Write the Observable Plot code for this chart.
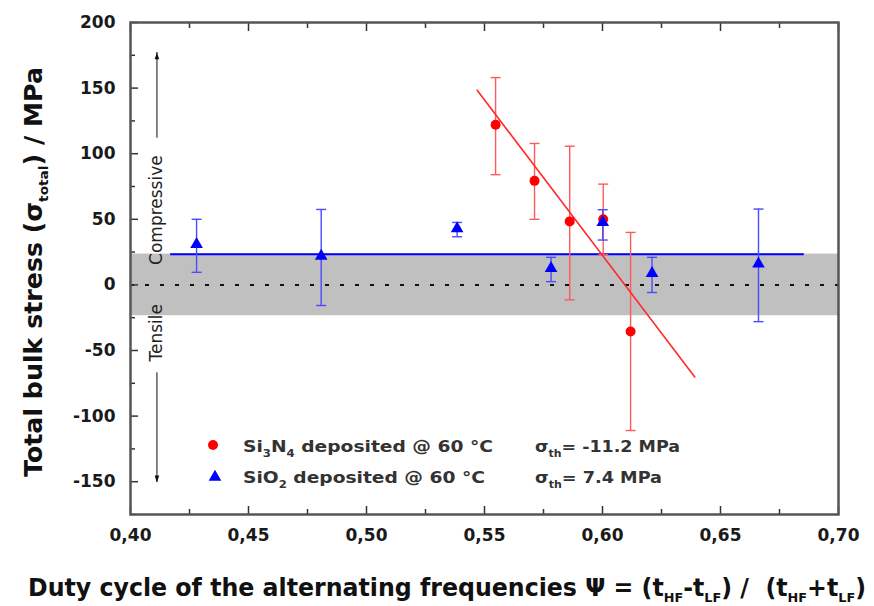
<!DOCTYPE html>
<html><head><meta charset="utf-8">
<script src="https://cdn.jsdelivr.net/npm/d3@7"></script>
<script src="https://cdn.jsdelivr.net/npm/@observablehq/plot@0.6"></script>
<style>html,body{margin:0;padding:0;background:#fff} svg{display:block}</style>
</head><body><div id="chart"></div>
<script>
// ---- data ----
const si3n4X  = [0.5547, 0.5712, 0.5861, 0.6003, 0.6119];
const si3n4Y  = [122, 79.3, 48.4, 50, -35.5];
const si3n4Lo = [84, 50, -11.4, 23, -111];
const si3n4Hi = [158, 107.8, 105.7, 76.8, 40];

const sio2X  = [0.428, 0.4808, 0.5384, 0.5782, 0.6001, 0.621, 0.6661];
const sio2Y  = [31, 22, 43, 12.7, 47.7, 8.9, 16];
const sio2Lo = [9.6, -15.7, 36.7, 2.5, 34.2, -5.8, -28];
const sio2Hi = [50, 57.5, 47.6, 21, 57.3, 21, 57.8];

const si3n4FitX = [0.5469, 0.6391];
const si3n4FitY = [148.3, -70.2];
const sio2LevelY = 23.3;
const sio2LevelX = [0.417, 0.6855];
const bandY = [-23.5, 23.5];

const xDomain = [0.40, 0.70];
const yDomain = [-175, 200];
const xTicks = [0.40, 0.45, 0.50, 0.55, 0.60, 0.65, 0.70];
const xMinor = [0.425, 0.475, 0.525, 0.575, 0.625, 0.675];
const yTicks = [-150, -100, -50, 0, 50, 100, 150, 200];
const yMinor = [-175, -125, -75, -25, 25, 75, 125, 175];

// annotation (Compressive / Tensile) placement
const annX = 0.4112;
const upArrow = [111.8, 177.2];
const downArrow = [-66.9, -150.6];

// ---- tables ----
const si3n4 = si3n4X.map((x, i) => ({x, y: si3n4Y[i], lo: si3n4Lo[i], hi: si3n4Hi[i]}));
const sio2 = sio2X.map((x, i) => ({x, y: sio2Y[i], lo: sio2Lo[i], hi: sio2Hi[i]}));
const fit = si3n4FitX.map((x, i) => ({x, y: si3n4FitY[i]}));

const cap = {draw(ctx, size) { const r = Math.sqrt(size / Math.PI); ctx.moveTo(-r, 0); ctx.lineTo(r, 0); }};
const head = {draw(ctx, size) { const r = Math.sqrt(size / Math.PI); ctx.moveTo(0, 0); ctx.lineTo(r, 3 * r); ctx.lineTo(-r, 3 * r); ctx.closePath(); }};

const RED = "#ff0000", REDBAR = "#ff5a5a", BLUE = "#0000ff", BLUEBAR = "#4a4aff";
const fmtX = d => d3.format(".2f")(d).replace(".", ",");

const chart = Plot.plot({
  width: 874, height: 606,
  marginLeft: 130, marginRight: 36, marginTop: 22, marginBottom: 92,
  style: {fontFamily: "DejaVu Sans", fontSize: "17px", fontWeight: "bold", color: "#1a1a1a", background: "#fff"},
  x: {domain: xDomain, axis: null},
  y: {domain: yDomain, axis: null},
  marks: [
    Plot.rect([0], {x1: () => xDomain[0], x2: () => xDomain[1], y1: () => bandY[0], y2: () => bandY[1], fill: "#c0c0c0"}),
    Plot.ruleY([0], {stroke: "#111", strokeWidth: 2, strokeDasharray: "4,11"}),
    Plot.ruleY([sio2LevelY], {x1: sio2LevelX[0], x2: sio2LevelX[1], stroke: BLUE, strokeWidth: 2}),
    // error bars
    Plot.ruleX(si3n4, {x: "x", y1: "lo", y2: "hi", stroke: REDBAR, strokeWidth: 1.4}),
    Plot.dot(si3n4, {x: "x", y: "lo", symbol: cap, r: 5, stroke: REDBAR, strokeWidth: 1.4, fill: "none"}),
    Plot.dot(si3n4, {x: "x", y: "hi", symbol: cap, r: 5, stroke: REDBAR, strokeWidth: 1.4, fill: "none"}),
    Plot.ruleX(sio2, {x: "x", y1: "lo", y2: "hi", stroke: BLUEBAR, strokeWidth: 1.4}),
    Plot.dot(sio2, {x: "x", y: "lo", symbol: cap, r: 5, stroke: BLUEBAR, strokeWidth: 1.4, fill: "none"}),
    Plot.dot(sio2, {x: "x", y: "hi", symbol: cap, r: 5, stroke: BLUEBAR, strokeWidth: 1.4, fill: "none"}),
    // fit line
    Plot.line(fit, {x: "x", y: "y", stroke: "#ff2a2a", strokeWidth: 1.6}),
    // points
    Plot.dot(si3n4, {x: "x", y: "y", r: 5, fill: RED}),
    Plot.dot(sio2, {x: "x", y: "y", r: 4.7, symbol: "triangle", fill: BLUE}),
    // annotations
    Plot.ruleX([annX], {y1: upArrow[0], y2: upArrow[1], stroke: "#333", strokeWidth: 1.2}),
    Plot.dot([annX], {x: d => d, y: upArrow[1], symbol: head, r: 2.3, fill: "#111"}),
    Plot.ruleX([annX], {y1: downArrow[0], y2: downArrow[1], stroke: "#333", strokeWidth: 1.2}),
    Plot.dot([annX], {x: d => d, y: downArrow[1], symbol: head, r: 2.3, fill: "#111", rotate: 180}),
    Plot.text(["Compressive"], {x: annX, y: 57, text: d => d, rotate: -90, fontSize: 17, fontWeight: "normal", fill: "#222"}),
    Plot.text(["Tensile"], {x: annX, y: -36.5, text: d => d, rotate: -90, fontSize: 17, fontWeight: "normal", fill: "#222"}),
    // axes: labels
    Plot.axisX(xTicks, {anchor: "bottom", tickSize: 0, tickPadding: 14, tickFormat: fmtX, label: null}),
    Plot.axisY(yTicks, {anchor: "left", tickSize: 0, tickPadding: 15, tickFormat: d => String(d), label: null}),
    // axes: inside ticks
    Plot.axisX(xTicks, {anchor: "bottom", tickSize: -8, tickFormat: () => "", label: null, stroke: "#333", strokeWidth: 1.5}),
    Plot.axisX(xMinor, {anchor: "bottom", tickSize: -5, tickFormat: () => "", label: null, stroke: "#333", strokeWidth: 1.5}),
    Plot.axisX(xTicks, {anchor: "top", tickSize: -8, tickFormat: () => "", label: null, stroke: "#333", strokeWidth: 1.5}),
    Plot.axisX(xMinor, {anchor: "top", tickSize: -5, tickFormat: () => "", label: null, stroke: "#333", strokeWidth: 1.5}),
    Plot.axisY(yTicks, {anchor: "left", tickSize: -8, tickFormat: () => "", label: null, stroke: "#333", strokeWidth: 1.5}),
    Plot.axisY(yMinor, {anchor: "left", tickSize: -5, tickFormat: () => "", label: null, stroke: "#333", strokeWidth: 1.5}),
    Plot.frame({stroke: "#555", strokeWidth: 2.5})
  ]
});

// ---- titles and legend with subscripts ----
const svg = d3.select(chart);
function rich(parts, attrs, subSize, shift) {
  const t = svg.append("text").style("white-space", "pre").attr("text-anchor", "start");
  for (const [k, v] of Object.entries(attrs)) t.attr(k, v);
  let down = false;
  for (const [s, sub] of parts) {
    const ts = t.append("tspan").text(s);
    if (sub && !down) { ts.attr("dy", shift).attr("font-size", subSize); down = true; }
    else if (sub) { ts.attr("font-size", subSize); }
    else if (down) { ts.attr("dy", -shift); down = false; }
  }
  return t;
}
const titleFont = {"font-family": "DejaVu Sans", "font-weight": "bold", fill: "#111", "lengthAdjust": "spacingAndGlyphs"};
rich([["Duty cycle of the alternating frequencies \u03A8 = (t", 0], ["HF", 1], ["-t", 0], ["LF", 1], [") /  (t", 0], ["HF", 1], ["+t", 0], ["LF", 1], [")", 0]],
  {...titleFont, x: 28, y: 596, "font-size": 24, textLength: 838}, 13, 6);
rich([["Total bulk stress (\u03C3", 0], ["total", 1], [") / MPa", 0]],
  {...titleFont, "text-anchor": "middle", transform: "translate(42,272) rotate(-90)", "font-size": 24, textLength: 410}, 13, 6);

const legFont = {"font-family": "DejaVu Sans", "font-weight": "bold", fill: "#333", "font-size": 16, "lengthAdjust": "spacingAndGlyphs"};
rich([["Si", 0], ["3", 1], ["N", 0], ["4", 1], [" deposited @ 60 \u00B0C", 0]], {...legFont, x: 243, y: 452, textLength: 250}, 10, 5);
rich([["SiO", 0], ["2", 1], [" deposited @ 60 \u00B0C", 0]], {...legFont, x: 243, y: 483, textLength: 242}, 10, 5);
rich([["\u03C3", 0], ["th", 1], ["= -11.2 MPa", 0]], {...legFont, x: 535, y: 452, textLength: 145}, 10, 5);
rich([["\u03C3", 0], ["th", 1], ["= 7.4 MPa", 0]], {...legFont, x: 535, y: 483, textLength: 127}, 10, 5);
svg.append("circle").attr("cx", 213).attr("cy", 445).attr("r", 5).attr("fill", RED);
svg.append("path").attr("d", d3.symbol(d3.symbolTriangle, Math.PI * 4.7 * 4.7)()).attr("transform", "translate(215,477)").attr("fill", BLUE);

document.getElementById("chart").appendChild(chart);
</script>
</body></html>
